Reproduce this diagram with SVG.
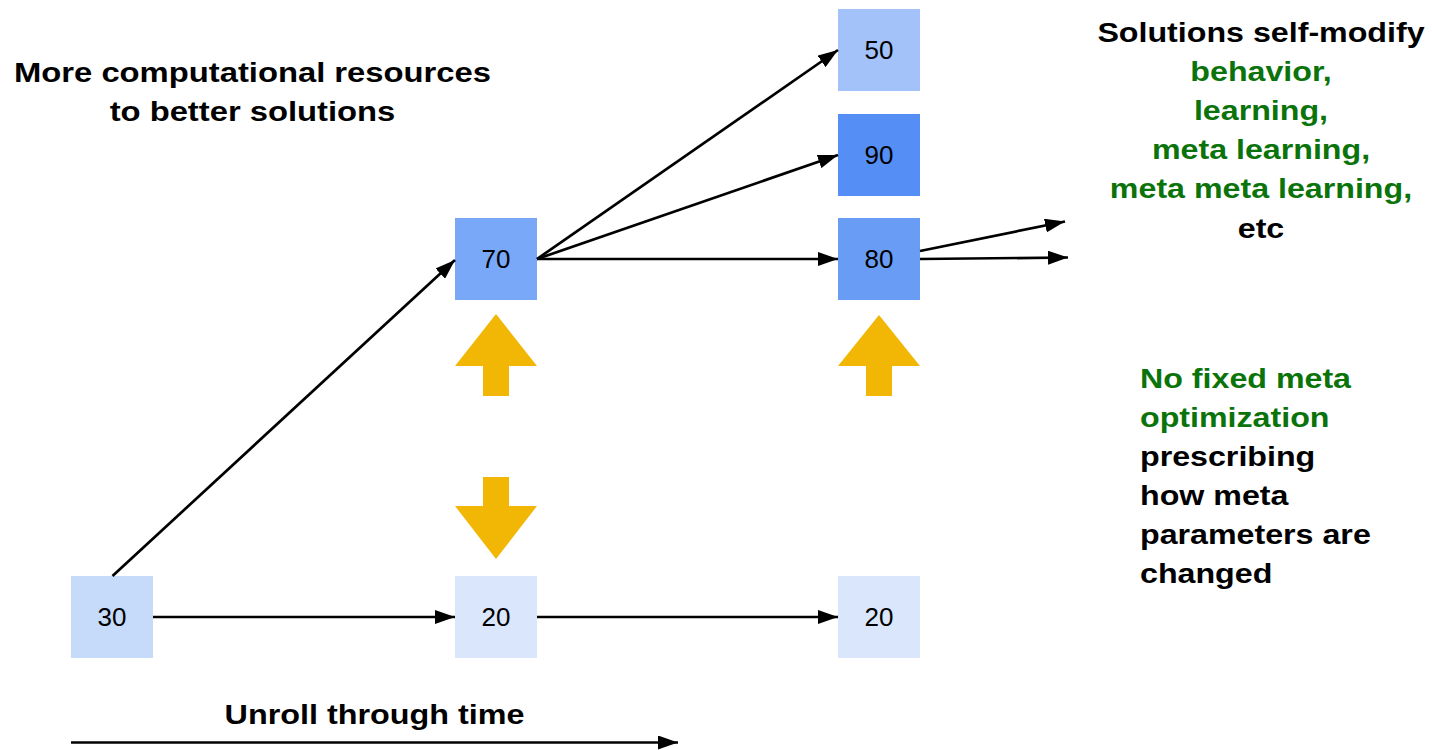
<svg xmlns="http://www.w3.org/2000/svg" width="1432" height="750" viewBox="0 0 1432 750">
  <style>
    .box-label { font-family: "Liberation Sans", Arial, sans-serif; font-size: 26px; fill: #000; text-anchor: middle; dominant-baseline: central; }
    .title { font-family: "Liberation Sans", Arial, sans-serif; font-size: 28px; font-weight: bold; fill: #000; }
    .green { fill: #0a730a; }
    .conn { stroke: #000; stroke-width: 2.7; fill: none; marker-end: url(#head); }
    .big-arrow { fill: #f2b705; }
  </style>
  <defs>
    <marker id="head" markerUnits="userSpaceOnUse" markerWidth="22" markerHeight="14" refX="20" refY="7" orient="auto">
      <path d="M0,0 L20,7 L0,14 z" fill="#000"/>
    </marker>
  </defs>

  <rect width="1432" height="750" fill="#fff"/>

  <!-- solution nodes -->
  <g id="node-30"><rect x="71" y="576" width="82" height="82" fill="#c6dafa"/><text class="box-label" x="112" y="617">30</text></g>
  <g id="node-20a"><rect x="455" y="576" width="82" height="82" fill="#d9e6fc"/><text class="box-label" x="496" y="617">20</text></g>
  <g id="node-20b"><rect x="838" y="576" width="82" height="82" fill="#d9e6fc"/><text class="box-label" x="879" y="617">20</text></g>
  <g id="node-70"><rect x="455" y="218" width="82" height="82" fill="#78a8f7"/><text class="box-label" x="496" y="259">70</text></g>
  <g id="node-80"><rect x="838" y="218" width="82" height="82" fill="#699df5"/><text class="box-label" x="879" y="259">80</text></g>
  <g id="node-90"><rect x="838" y="114" width="82" height="82" fill="#558ff5"/><text class="box-label" x="879" y="155">90</text></g>
  <g id="node-50"><rect x="838" y="9" width="82" height="82" fill="#a3c2f9"/><text class="box-label" x="879" y="50">50</text></g>

  <!-- selection arrows -->
  <g id="up-arrow-70"><polygon class="big-arrow" points="496,314 537,366 509,366 509,396 483,396 483,366 455,366"/></g>
  <g id="up-arrow-80"><polygon class="big-arrow" points="879,315 920,366 892,366 892,396 866,396 866,366 838,366"/></g>
  <g id="down-arrow-20"><polygon class="big-arrow" points="483,477 509,477 509,506 537,506 496,559 455,506 483,506"/></g>

  <!-- connectors -->
  <g id="connectors">
    <line class="conn" x1="153" y1="617" x2="455" y2="617"/>
    <line class="conn" x1="537" y1="617" x2="838" y2="617"/>
    <line class="conn" x1="112.5" y1="576" x2="455" y2="260"/>
    <line class="conn" x1="537" y1="259" x2="838" y2="259"/>
    <line class="conn" x1="537" y1="259" x2="838" y2="155"/>
    <line class="conn" x1="537" y1="259" x2="838" y2="50"/>
    <line class="conn" x1="920" y1="251" x2="1065" y2="221.5"/>
    <line class="conn" x1="920" y1="259" x2="1068" y2="257.5"/>
    <line class="conn" x1="71" y1="742.5" x2="678" y2="742.5"/>
  </g>

  <!-- annotations (wide bold face: glyphs widened slightly about each block's anchor) -->
  <g id="label-resources" text-anchor="middle" transform="translate(252.5,0) scale(1.17,1) translate(-252.5,0)">
    <text class="title" x="252.5" y="82.5">More computational resources</text>
    <text class="title" x="252.5" y="121.5">to better solutions</text>
  </g>
  <g id="label-self-modify" text-anchor="middle" transform="translate(1261,0) scale(1.15,1) translate(-1261,0)">
    <text class="title" x="1261" y="42">Solutions self-modify</text>
    <text class="title green" x="1261" y="81">behavior,</text>
    <text class="title green" x="1261" y="120">learning,</text>
    <text class="title green" x="1261" y="159">meta learning,</text>
    <text class="title green" x="1261" y="198">meta meta learning,</text>
    <text class="title" x="1261" y="238">etc</text>
  </g>
  <g id="label-no-fixed" transform="translate(1140,0) scale(1.15,1) translate(-1140,0)">
    <text class="title green" x="1140" y="388">No fixed meta</text>
    <text class="title green" x="1140" y="427">optimization</text>
    <text class="title" x="1140" y="466">prescribing</text>
    <text class="title" x="1140" y="505">how meta</text>
    <text class="title" x="1140" y="544">parameters are</text>
    <text class="title" x="1140" y="583">changed</text>
  </g>
  <g id="label-time" text-anchor="middle" transform="translate(374.5,0) scale(1.155,1) translate(-374.5,0)">
    <text class="title" x="374.5" y="724">Unroll through time</text>
  </g>
</svg>
